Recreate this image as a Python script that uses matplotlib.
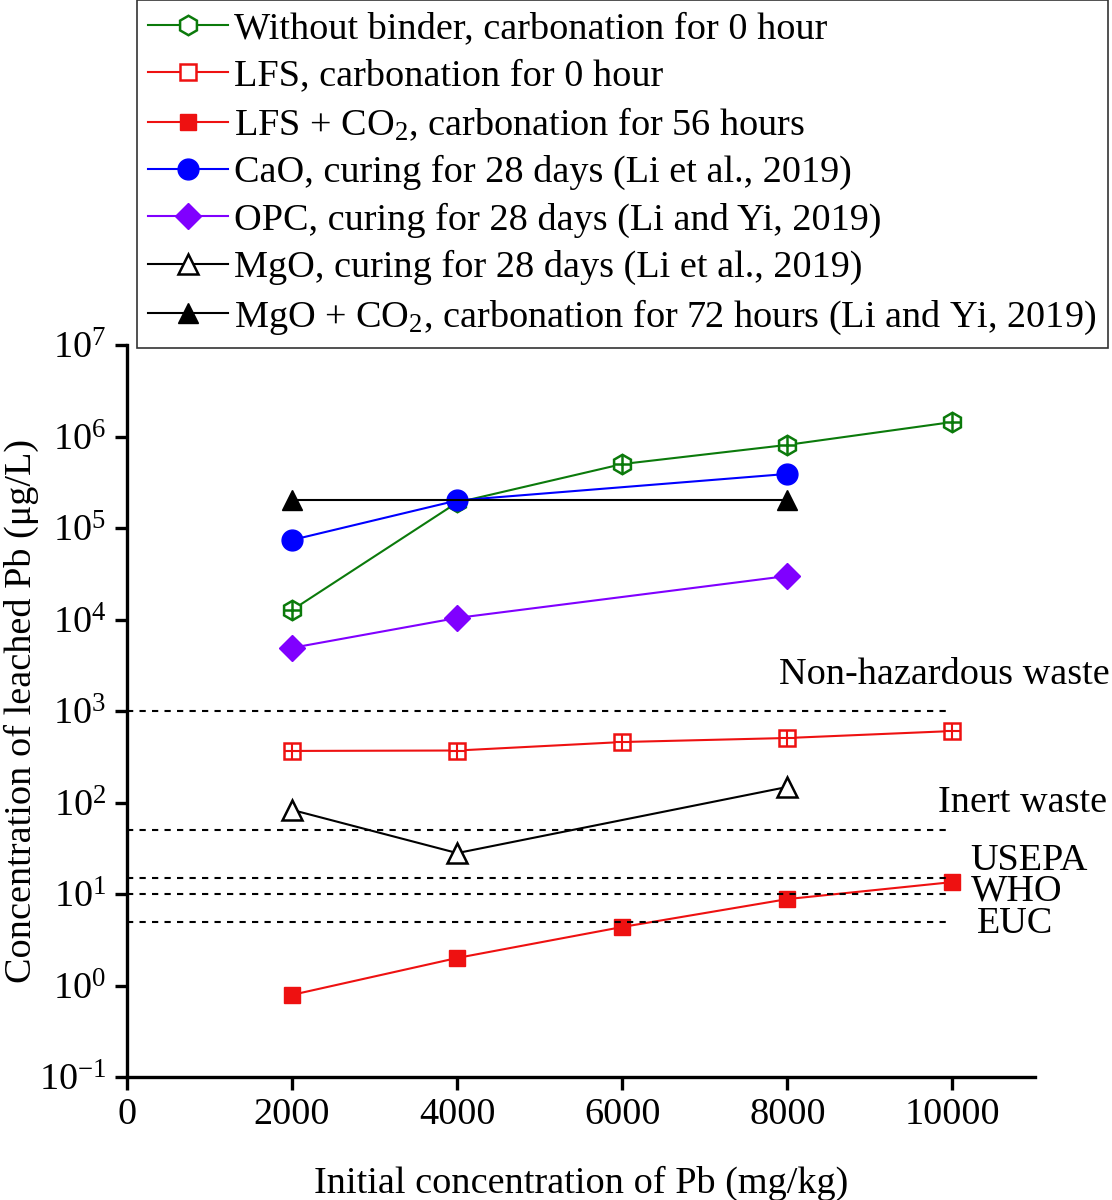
import numpy as np
import matplotlib
matplotlib.use("Agg")
import matplotlib.pyplot as plt
from matplotlib.ticker import FixedLocator, FuncFormatter

plt.rcParams['font.family'] = ['Liberation Serif', 'DejaVu Serif']
plt.rcParams['mathtext.fontset'] = 'custom'
plt.rcParams['mathtext.rm'] = 'Liberation Serif'
plt.rcParams['mathtext.it'] = 'Liberation Serif:italic'
plt.rcParams['mathtext.bf'] = 'Liberation Serif:bold'

# Data
x5 = [2000, 4000, 6000, 8000, 10000]
x3 = [2000, 4000, 8000]
x2 = [2000, 8000]

no_binder = [1.27e4, 1.9e5, 5.0e5, 8.1e5, 1.44e6]
lfs_0h = [366, 370, 458, 507, 604]
lfs_co2 = [0.79, 2.0, 4.36, 8.8, 13.5]
cao = [7.4e4, 2.0e5, 3.9e5]
opc = [4.9e3, 1.04e4, 2.99e4]
mgo = [83, 28, 148]
mgo_co2 = [2.0e5, 2.0e5]

limits = [1000, 50, 15, 10, 5]
limit_labels = ['Non-hazardous waste', 'Inert waste', 'USEPA', 'WHO', 'EUC']
label_x = [7900, 9820, 10220, 10220, 10300]
label_y = [2470, 99, 23.0, 10.6, 4.7]

green = '#0b7a0b'
red = '#ee1111'
blue = '#0000ff'
purple = '#8000ff'

fs = 27.5

fig = plt.figure(figsize=(11.12, 12), dpi=100)
ax = fig.add_axes([0.1142, 0.1025, 0.8166, 0.61])

lw = 1.5
handles = []
h, = ax.plot(x5, no_binder, color=green, lw=lw, marker='h', ms=14, mfc='white', mec=green, mew=1.8,
             label='Without binder, carbonation for 0 hour')
ax.plot(x5, no_binder, ls='none', marker='+', ms=13, mec=green, mew=1.8)
handles.append(h)
h, = ax.plot(x5, lfs_0h, color=red, lw=lw, marker='s', ms=12, mfc='white', mec=red, mew=1.8,
             label='LFS, carbonation for 0 hour')
ax.plot(x5, lfs_0h, ls='none', marker='+', ms=11, mec=red, mew=1.5)
handles.append(h)
h, = ax.plot(x5, lfs_co2, color=red, lw=lw, marker='s', ms=12, mfc=red, mec=red,
             label='LFS + CO$_2$, carbonation for 56 hours')
handles.append(h)
h, = ax.plot(x3, cao, color=blue, lw=lw, marker='o', ms=15, mfc=blue, mec=blue,
             label='CaO, curing for 28 days (Li et al., 2019)')
handles.append(h)
h, = ax.plot(x3, opc, color=purple, lw=lw, marker='D', ms=13, mfc=purple, mec=purple,
             label='OPC, curing for 28 days (Li and Yi, 2019)')
handles.append(h)
h, = ax.plot(x3, mgo, color='black', lw=lw, marker='^', ms=15, mfc='white', mec='black', mew=1.8,
             label='MgO, curing for 28 days (Li et al., 2019)')
handles.append(h)
h, = ax.plot(x2, mgo_co2, color='black', lw=lw, marker='^', ms=15, mfc='black', mec='black',
             label='MgO + CO$_2$, carbonation for 72 hours (Li and Yi, 2019)')
handles.append(h)

for lim in limits:
    ax.plot([0, 10000], [lim, lim], color='black', lw=1.5, ls=(0, (3, 3)))

for txt, tx, ty in zip(limit_labels, label_x, label_y):
    ax.text(tx, ty, txt, fontsize=fs, ha='left', va='center', clip_on=False)

ax.set_yscale('log')
ax.set_ylim(1e-1, 1e7)
ax.set_xlim(0, 11000)
ax.yaxis.set_major_locator(FixedLocator([10.0 ** k for k in range(-1, 8)]))
ax.yaxis.set_minor_locator(FixedLocator([]))
ax.yaxis.set_major_formatter(FuncFormatter(lambda v, p: '$10^{%d}$' % int(round(np.log10(v)))))
ax.set_xticks([0, 2000, 4000, 6000, 8000, 10000])

for s in ['top', 'right']:
    ax.spines[s].set_visible(False)
for s in ['left', 'bottom']:
    ax.spines[s].set_linewidth(2.4)
ax.tick_params(axis='both', which='major', direction='out', length=9, width=2.4,
               labelsize=fs, pad=6)

ax.set_xlabel('Initial concentration of Pb (mg/kg)', fontsize=fs, labelpad=24)
ax.set_ylabel('Concentration of leached Pb (μg/L)', fontsize=fs, labelpad=0)

leg = fig.legend(handles=handles, loc='upper left', bbox_to_anchor=(0.123, 1.0),
                 fontsize=fs, frameon=True, fancybox=False, edgecolor='black',
                 handlelength=2.1, handletextpad=0.15, labelspacing=0.32,
                 borderpad=0.3, borderaxespad=0.0)
leg.get_frame().set_linewidth(1.2)

fig.savefig('out.png', dpi=100)
